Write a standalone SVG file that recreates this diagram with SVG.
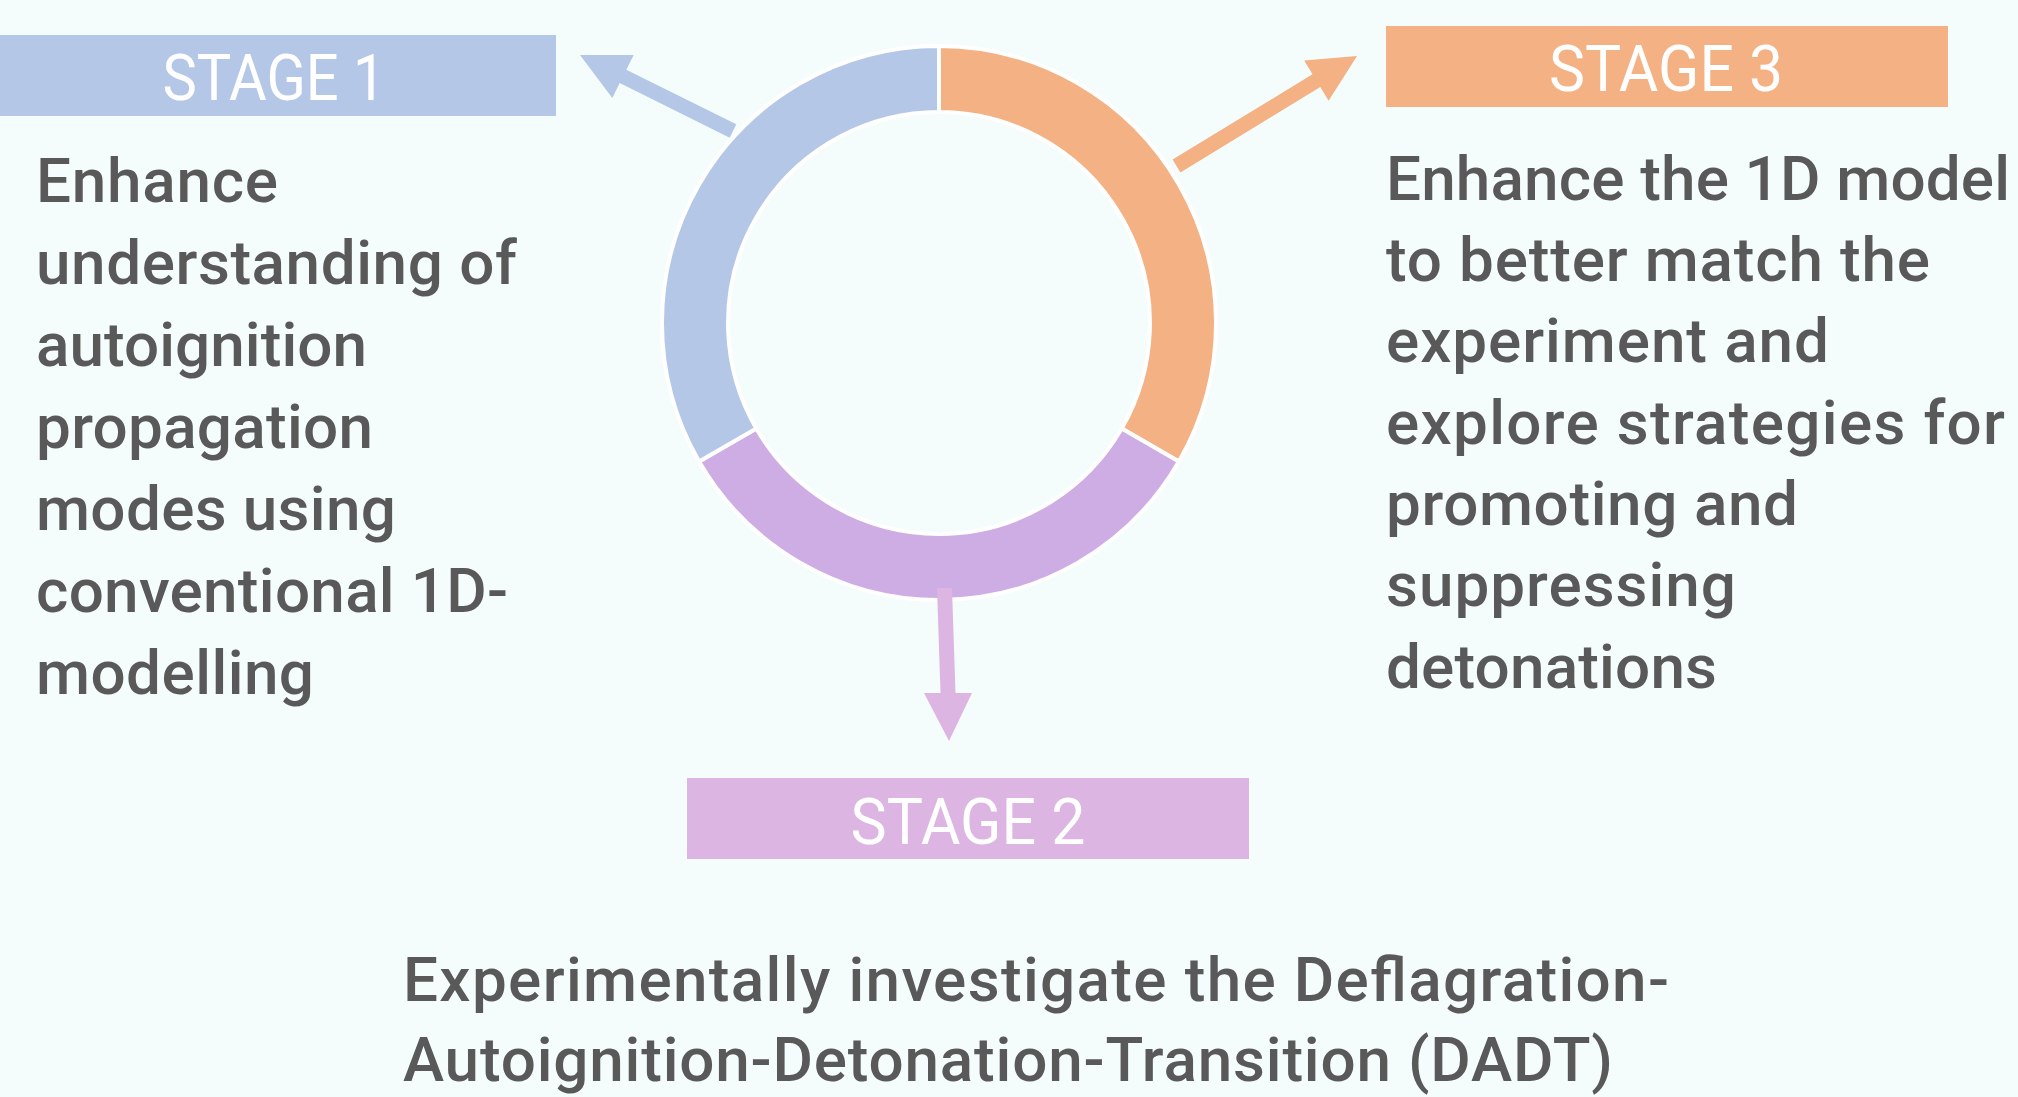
<svg xmlns="http://www.w3.org/2000/svg" width="2018" height="1097" viewBox="0 0 2018 1097">
<style>
.body{font-family:Roboto,"Liberation Sans","DejaVu Sans",sans-serif;font-size:62px;font-weight:500;fill:#595959}
.label{font-family:Roboto,"Liberation Sans","DejaVu Sans",sans-serif;font-size:64px;fill:#FFFFFF;text-anchor:middle}
.seg{stroke:#FFFFFF;stroke-width:4;stroke-linejoin:miter}
</style>
<rect x="0" y="0" width="2018" height="1097" fill="#F4FDFC"/>
<g id="ring">
<path class="seg" fill="#F4B183" d="M939,46 A277,277 0 0 1 1178.9,461.5 L1121.7,428.5 A211,211 0 0 0 939,112 Z"/>
<path class="seg" fill="#CEADE4" d="M1178.9,461.5 A277,277 0 0 1 699.1,461.5 L756.3,428.5 A211,211 0 0 0 1121.7,428.5 Z"/>
<path class="seg" fill="#B4C7E7" d="M699.1,461.5 A277,277 0 0 1 939,46 L939,112 A211,211 0 0 0 756.3,428.5 Z"/>
</g>
<g id="connectors">
<polygon fill="#B4C7E7" points="736.3,124.3 626.3,69.7 633.7,54.9 580,55 612.3,97.9 619.7,83.1 729.7,137.7"/>
<polygon fill="#F4B183" points="1172.6,159.6 1312.5,74.3 1304.2,60.6 1357,56 1328.6,100.8 1320.3,87.1 1180.4,172.4"/>
<polygon fill="#DDB5E3" points="937,588 952,588 955.5,693 972,693 949,741 924,693 940.5,693"/>
</g>
<g id="stage1">
<rect x="0" y="35" width="556" height="81" fill="#B4C7E7"/>
<text class="label" x="274" y="100" textLength="223" lengthAdjust="spacingAndGlyphs">STAGE 1</text>
<text class="body" x="36">
<tspan x="36" y="202" textLength="242">Enhance</tspan>
<tspan x="36" y="284" textLength="481">understanding of</tspan>
<tspan x="36" y="366" textLength="331">autoignition</tspan>
<tspan x="36" y="448" textLength="337">propagation</tspan>
<tspan x="36" y="530" textLength="360">modes using</tspan>
<tspan x="36" y="612" textLength="472">conventional 1D-</tspan>
<tspan x="36" y="694" textLength="278">modelling</tspan>
</text>
</g>
<g id="stage3">
<rect x="1386" y="26" width="562" height="81" fill="#F4B183"/>
<text class="label" x="1666" y="91" textLength="234" lengthAdjust="spacingAndGlyphs">STAGE 3</text>
<text class="body">
<tspan x="1386" y="200" textLength="624">Enhance the 1D model</tspan>
<tspan x="1386" y="281" textLength="544">to better match the</tspan>
<tspan x="1386" y="362" textLength="443">experiment and</tspan>
<tspan x="1386" y="444" textLength="619">explore strategies for</tspan>
<tspan x="1386" y="525" textLength="412">promoting and</tspan>
<tspan x="1386" y="606" textLength="350">suppressing</tspan>
<tspan x="1386" y="688" textLength="331">detonations</tspan>
</text>
</g>
<g id="stage2">
<rect x="687" y="778" width="562" height="81" fill="#DDB5E3"/>
<text class="label" x="968" y="844" textLength="235" lengthAdjust="spacingAndGlyphs">STAGE 2</text>
<text class="body">
<tspan x="403" y="1001" textLength="1266">Experimentally investigate the Deflagration-</tspan>
<tspan x="403" y="1081" textLength="1210">Autoignition-Detonation-Transition (DADT)</tspan>
</text>
</g>
</svg>
